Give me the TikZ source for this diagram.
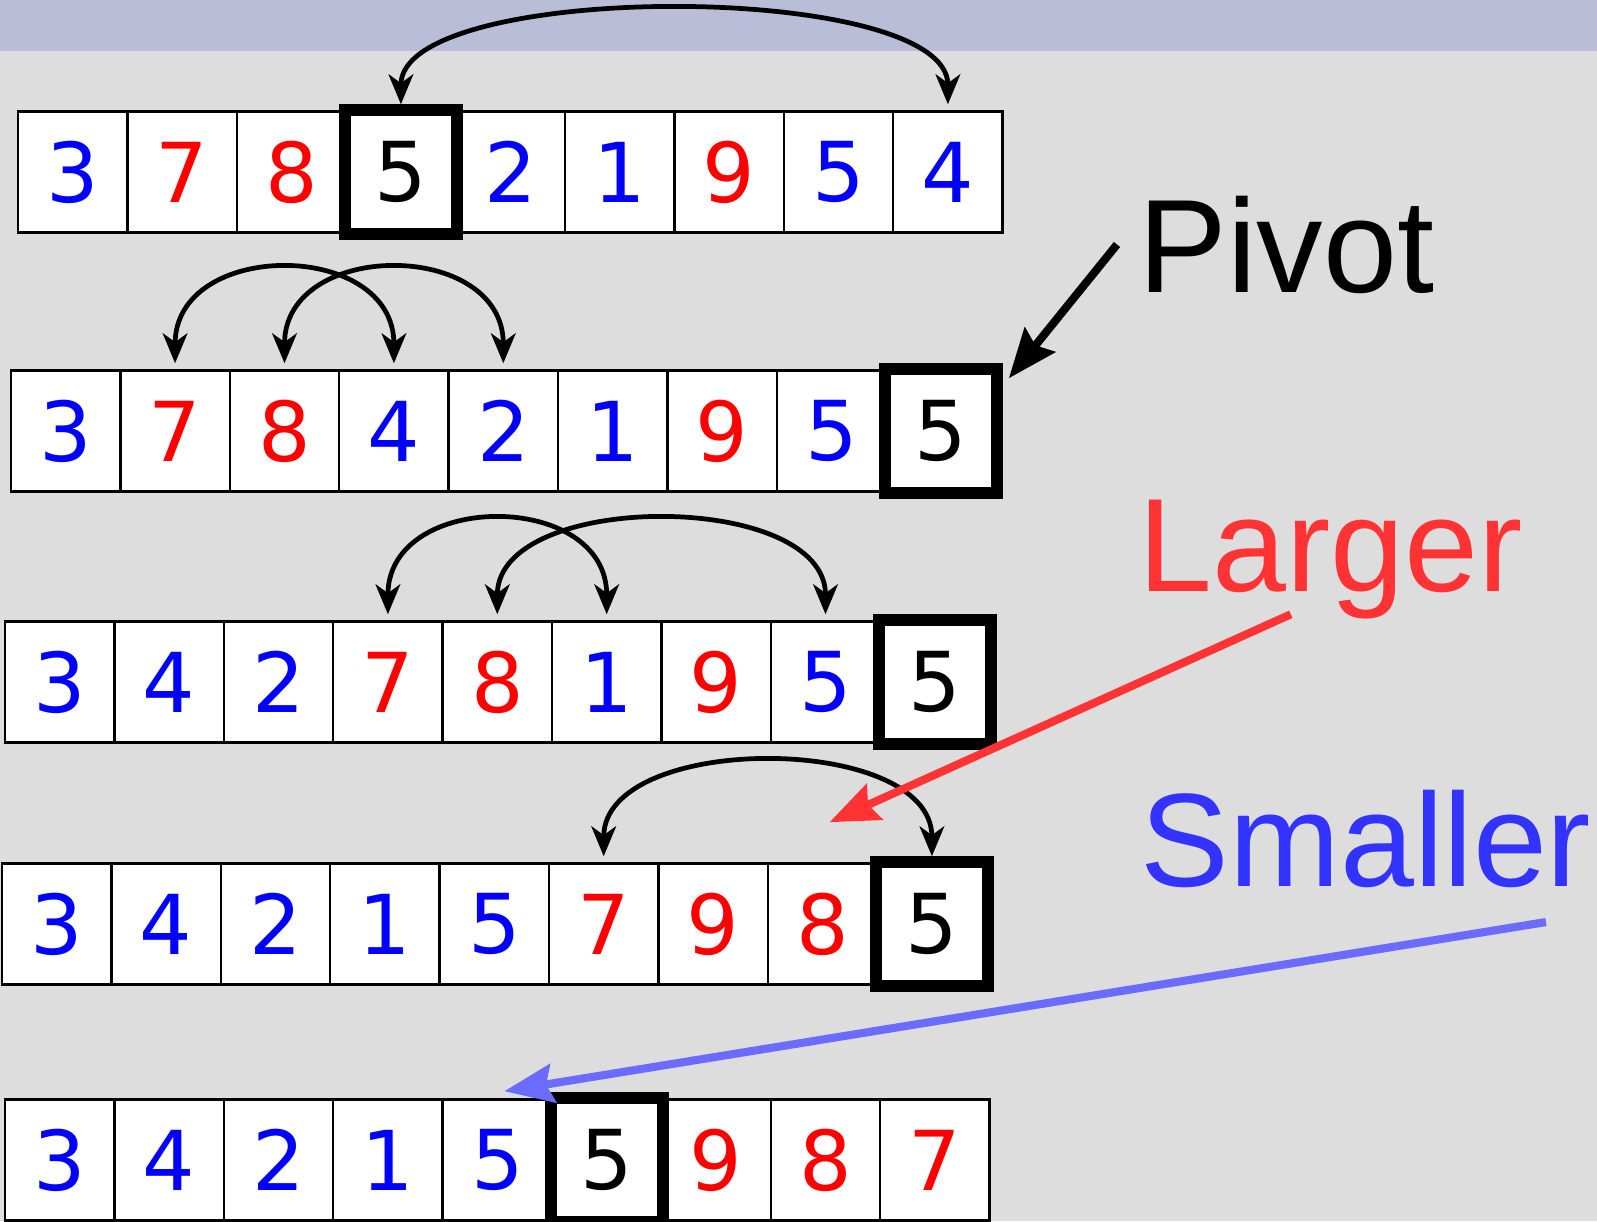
\documentclass[tikz,border=0pt]{standalone}
\usepackage{fontspec}
\usepackage{tikz}
\usetikzlibrary{arrows.meta}
\newfontfamily\digitfont{DejaVu Sans}
\newfontfamily\labelfont{Liberation Sans}
\definecolor{band}{HTML}{B9BDD8}
\definecolor{paper}{HTML}{DDDDDD}
\definecolor{larger}{HTML}{FF3333}
\definecolor{smaller}{HTML}{3333FF}
\definecolor{smallerline}{HTML}{6B6BFF}

\begin{document}
\begin{tikzpicture}[
    x=0.01cm,y=-0.01cm,
    cell/.style={draw,fill=white,line width=0.7pt,minimum width=1.094cm,minimum height=1.21cm,inner sep=0pt,font=\digitfont\fontsize{23.5}{28}\selectfont},
    pivotbox/.style={draw,line width=3.5pt},
    swap/.style={{Stealth[length=8.5pt,width=7pt,inset=2.5pt]}-{Stealth[length=8.5pt,width=7pt,inset=2.5pt]},line width=1.35pt,shorten <=1.7pt,shorten >=1.7pt},
    lbl/.style={font=\labelfont\fontsize{37.8}{45}\selectfont,inner sep=0pt,anchor=base west},
    ptr/.style={-{Stealth[length=14pt,width=11pt,inset=2pt]},line width=2.3pt}
]
\useasboundingbox (0,0) rectangle (1597,1221);
\fill[paper] (0,0) rectangle (1597,1221);
\fill[band] (0,0) rectangle (1597,51);

% rows of the array
\foreach \v/\c [count=\i] in {3/blue,7/red,8/red,5/black,2/blue,1/blue,9/red,5/blue,4/blue}
  \node[cell,text=\c] (a\i) at ({18+(\i-0.5)*109.4},172) {\v};
\foreach \v/\c [count=\i] in {3/blue,7/red,8/red,4/blue,2/blue,1/blue,9/red,5/blue,5/black}
  \node[cell,text=\c] (b\i) at ({11+(\i-0.5)*109.4},431) {\v};
\foreach \v/\c [count=\i] in {3/blue,4/blue,2/blue,7/red,8/red,1/blue,9/red,5/blue,5/black}
  \node[cell,text=\c] (c\i) at ({5+(\i-0.5)*109.4},682) {\v};
\foreach \v/\c [count=\i] in {3/blue,4/blue,2/blue,1/blue,5/blue,7/red,9/red,8/red,5/black}
  \node[cell,text=\c] (d\i) at ({2+(\i-0.5)*109.4},924) {\v};
\foreach \v/\c [count=\i] in {3/blue,4/blue,2/blue,1/blue,5/blue,5/black,9/red,8/red,7/red}
  \node[cell,text=\c] (e\i) at ({5+(\i-0.5)*109.4},1160) {\v};

% pivot frames
\draw[pivotbox] (a4.north west) rectangle (a4.south east);
\draw[pivotbox] (b9.north west) rectangle (b9.south east);
\draw[pivotbox] (c9.north west) rectangle (c9.south east);
\draw[pivotbox] (d9.north west) rectangle (d9.south east);
\draw[pivotbox] (e6.north west) rectangle (e6.south east);

% swaps
\draw[swap] (a4.north) .. controls +(0,-130) and +(0,-130) .. (a9.north);
\draw[swap] (b2.north) .. controls +(0,-130) and +(0,-130) .. (b4.north);
\draw[swap] (b3.north) .. controls +(0,-130) and +(0,-130) .. (b5.north);
\draw[swap] (c4.north) .. controls +(0,-130) and +(0,-130) .. (c6.north);
\draw[swap] (c5.north) .. controls +(0,-130) and +(0,-130) .. (c8.north);
\draw[swap] (d6.north) .. controls +(0,-130) and +(0,-130) .. (d9.north);

% legend
\node[lbl] (pivot) at (1138,292) {Pivot};
\node[lbl,text=larger] (larger) at (1138,591) {Larger};
\node[lbl,text=smaller] (smaller) at (1140,886) {Smaller};

\draw[ptr] ([xshift=-0.21cm]pivot.west) -- ([xshift=0.12cm,yshift=-0.09cm]b9.north east);
\draw[ptr,larger] ([xshift=-0.4cm,yshift=0.05cm]larger.south) -- ([xshift=0.07cm,yshift=0.40cm]d8.north);
\draw[ptr,smallerline] ([xshift=-0.46cm,yshift=-0.34cm]smaller.south east) -- ([xshift=0.07cm,yshift=0.07cm]e5.north);
\end{tikzpicture}
\end{document}
